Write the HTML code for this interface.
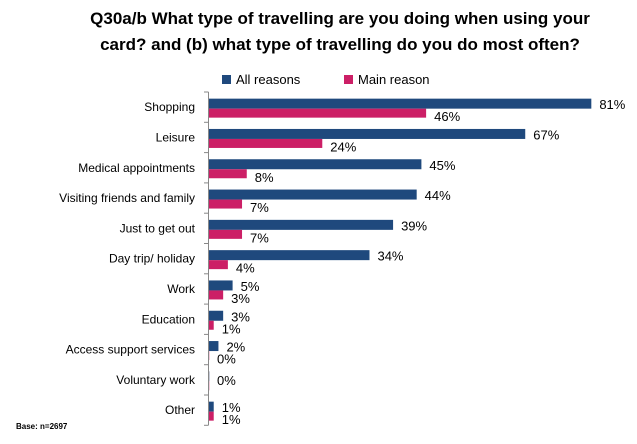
<!DOCTYPE html>
<html><head><style>
body{margin:0;background:#fff;}
svg text{font-family:"Liberation Sans",Arial,sans-serif;}
</style></head><body>
<svg width="637" height="439" xmlns="http://www.w3.org/2000/svg">
<text x="340" y="24" font-size="17" font-weight="bold" text-anchor="middle" fill="#000">Q30a/b What type of travelling are you doing when using your</text>
<text x="340" y="50" font-size="17" font-weight="bold" text-anchor="middle" fill="#000">card? and (b) what type of travelling do you do most often?</text>
<rect x="222" y="75" width="9" height="9" fill="#1f497d"/>
<text x="236" y="84" font-size="13" fill="#000">All reasons</text>
<rect x="344" y="75" width="9" height="9" fill="#cc1f66"/>
<text x="358" y="84" font-size="13" fill="#000">Main reason</text>
<g id="chart"></g>
<text x="16" y="429" font-size="8" font-weight="bold" fill="#000">Base: n=2697</text>
</svg>
<script>
(function(){
var d=[["Shopping",81,46],["Leisure",67,24],["Medical appointments",45,8],["Visiting friends and family",44,7],["Just to get out",39,7],["Day trip/ holiday",34,4],["Work",5,3],["Education",3,1],["Access support services",2,0],["Voluntary work",0,0],["Other",1,1]];
var g=document.getElementById("chart");var h="";
var x0=209,s=4.72,t0=92,st=30.3;
h+='<line x1="208.5" y1="'+t0+'" x2="208.5" y2="'+(t0+st*11)+'" stroke="#888" stroke-width="1"/>';
for(var i=0;i<=11;i++){var y=t0+st*i;h+='<line x1="204" y1="'+y+'" x2="208.5" y2="'+y+'" stroke="#888"/>';}
d.forEach(function(r,i){var c=t0+st*i+st/2;
h+='<text x="195" y="'+(c+4)+'" font-size="12" text-anchor="end" fill="#000">'+r[0]+'</text>';
var w1=Math.max(r[1]*s,1),w2=Math.max(r[2]*s,1);
h+='<rect x="'+x0+'" y="'+(c-8.5)+'" width="'+w1+'" height="10" fill="'+(r[1]?'#1f497d':'#c8ccd8')+'"/>';
h+='<rect x="'+x0+'" y="'+(c+1.5)+'" width="'+w2+'" height="9" fill="'+(r[2]?'#cc1f66':'#f2cddc')+'"/>';
if(i!==9){
h+='<text x="'+(x0+r[1]*s+8)+'" y="'+(c+2)+'" font-size="13" fill="#000">'+r[1]+'%</text>';
h+='<text x="'+(x0+r[2]*s+8)+'" y="'+(c+14)+'" font-size="13" fill="#000">'+r[2]+'%</text>';
}else{h+='<text x="'+(x0+8)+'" y="'+(c+5)+'" font-size="13" fill="#000">0%</text>';}
});
g.innerHTML=h;
})();
</script>
</body></html>
